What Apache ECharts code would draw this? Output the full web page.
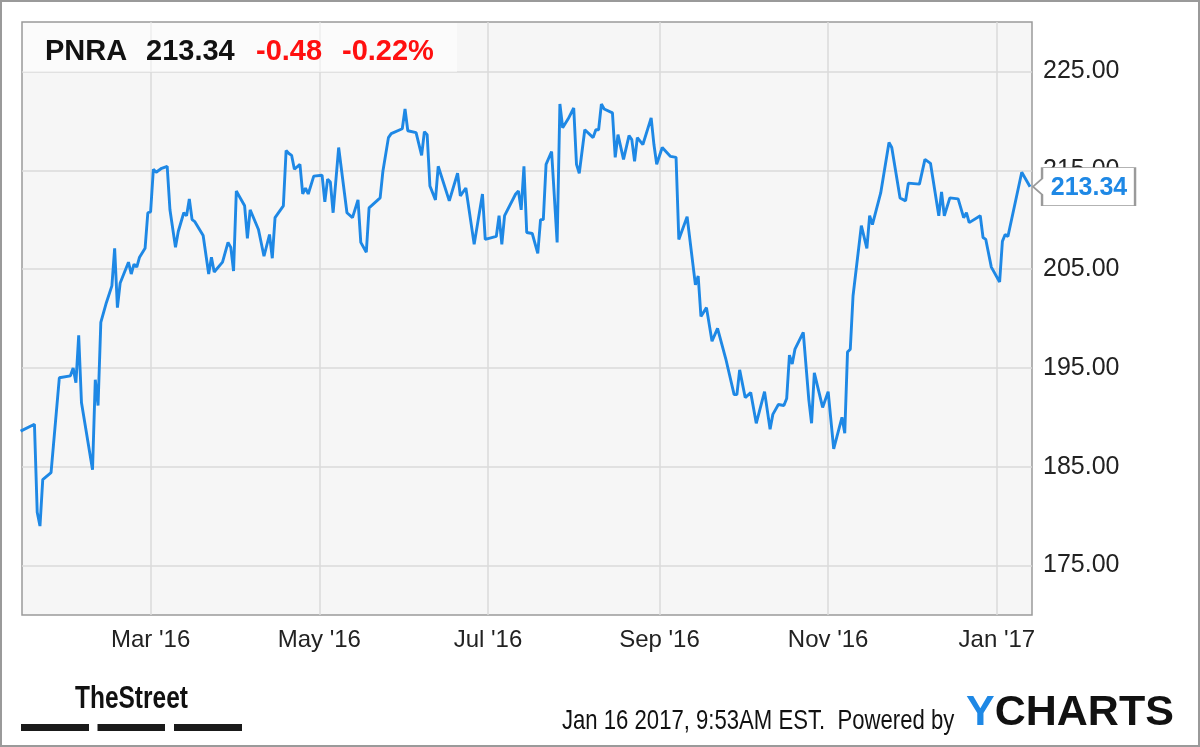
<!DOCTYPE html>
<html>
<head>
<meta charset="utf-8">
<script src="https://cdn.jsdelivr.net/npm/echarts@6/dist/echarts.min.js"></script>
<style>
html,body{margin:0;padding:0;background:#fff;}
#c{width:1200px;height:747px;}
</style>
</head>
<body>
<div id="c"></div>
<script>
// ---- data ----
const ticker = 'PNRA';
const lastPriceText = '213.34';
const changeText = '-0.48';
const changePctText = '-0.22%';
const stampText = 'Jan 16 2017, 9:53AM EST.  Powered by';

const dates = [
'2016-01-14','2016-01-19','2016-01-20','2016-01-21','2016-01-22','2016-01-25','2016-01-28',
'2016-02-01','2016-02-02','2016-02-03','2016-02-04','2016-02-05','2016-02-09','2016-02-10','2016-02-11','2016-02-12',
'2016-02-14','2016-02-16','2016-02-17','2016-02-18','2016-02-19','2016-02-22','2016-02-23','2016-02-24','2016-02-25',
'2016-02-26','2016-02-28','2016-02-29','2016-03-01','2016-03-02','2016-03-03','2016-03-05','2016-03-07','2016-03-08',
'2016-03-10','2016-03-11','2016-03-13','2016-03-14','2016-03-15','2016-03-16','2016-03-17','2016-03-20','2016-03-22',
'2016-03-23','2016-03-24','2016-03-27','2016-03-29','2016-03-30','2016-03-31','2016-04-01','2016-04-02','2016-04-04',
'2016-04-05','2016-04-06','2016-04-09','2016-04-11','2016-04-13','2016-04-14','2016-04-15','2016-04-18','2016-04-19',
'2016-04-20','2016-04-21','2016-04-22','2016-04-24','2016-04-25','2016-04-26','2016-04-27','2016-04-29','2016-05-02',
'2016-05-03','2016-05-04','2016-05-05','2016-05-06','2016-05-08','2016-05-11','2016-05-13','2016-05-15','2016-05-16',
'2016-05-18','2016-05-19','2016-05-23','2016-05-24','2016-05-26','2016-05-27','2016-05-31','2016-06-01','2016-06-02',
'2016-06-05','2016-06-07','2016-06-08','2016-06-09','2016-06-10','2016-06-12','2016-06-13','2016-06-17','2016-06-20',
'2016-06-21','2016-06-23','2016-06-26','2016-06-29','2016-06-30','2016-07-04','2016-07-05','2016-07-06','2016-07-07',
'2016-07-11','2016-07-12','2016-07-13','2016-07-14','2016-07-15','2016-07-17','2016-07-19','2016-07-20','2016-07-21',
'2016-07-22','2016-07-24','2016-07-26','2016-07-27','2016-07-28','2016-07-30','2016-08-01','2016-08-02','2016-08-03',
'2016-08-05','2016-08-08','2016-08-09','2016-08-10','2016-08-11','2016-08-12','2016-08-15','2016-08-16','2016-08-17',
'2016-08-19','2016-08-21','2016-08-22','2016-08-23','2016-08-24','2016-08-26','2016-08-29','2016-08-30','2016-08-31',
'2016-09-02','2016-09-05','2016-09-07','2016-09-08','2016-09-11','2016-09-14','2016-09-15','2016-09-16','2016-09-18',
'2016-09-20','2016-09-22','2016-09-25','2016-09-28','2016-09-29','2016-09-30','2016-10-02','2016-10-04','2016-10-06',
'2016-10-09','2016-10-11','2016-10-12','2016-10-14','2016-10-16','2016-10-17','2016-10-18','2016-10-19','2016-10-20',
'2016-10-23','2016-10-25','2016-10-26','2016-10-27','2016-10-30','2016-11-01','2016-11-03','2016-11-06','2016-11-07',
'2016-11-08','2016-11-09','2016-11-10','2016-11-13','2016-11-15','2016-11-16','2016-11-17','2016-11-20','2016-11-23',
'2016-11-24','2016-11-27','2016-11-29','2016-11-30','2016-12-04','2016-12-06','2016-12-08','2016-12-11','2016-12-12',
'2016-12-13','2016-12-15','2016-12-18','2016-12-20','2016-12-21','2016-12-22','2016-12-26','2016-12-27','2016-12-28',
'2016-12-30','2017-01-02','2017-01-03','2017-01-04','2017-01-05','2017-01-10','2017-01-13'
];
const prices = [
188.6,189.3,180.4,179.0,183.7,184.4,194.0,
194.2,195.0,193.5,198.3,191.5,184.7,193.8,191.2,199.6,
201.6,203.3,207.1,201.1,203.6,205.7,204.5,205.5,205.2,
206.2,207.1,210.7,210.8,215.1,214.8,215.2,215.4,211.0,
207.2,208.8,210.7,210.4,212.1,210.0,209.8,208.4,204.5,
206.2,204.7,205.7,207.7,207.2,204.8,212.9,212.4,211.4,
208.1,211.0,209.0,206.3,208.5,206.1,210.2,211.4,217.0,
216.7,216.5,215.1,215.6,212.6,213.2,212.6,214.4,214.5,
211.8,214.1,213.8,210.7,217.3,210.7,210.2,212.0,207.7,
206.7,211.2,212.2,214.9,218.3,218.7,219.2,221.2,219.0,
218.8,216.5,218.9,218.6,213.4,212.0,215.4,211.9,214.7,
212.4,213.2,207.5,212.6,208.0,208.3,210.4,207.5,210.4,
212.6,212.9,211.0,215.4,208.7,208.6,206.6,210.0,210.0,
215.6,216.9,207.7,221.7,219.3,220.2,221.3,215.6,214.7,
219.1,218.3,219.1,219.1,221.7,221.2,220.8,216.3,218.6,
216.1,218.5,218.1,215.9,218.3,217.6,220.3,217.6,215.6,
217.3,216.4,216.3,208.0,210.3,203.4,204.3,200.2,201.1,
197.7,199.0,195.9,192.3,192.3,194.8,192.0,192.5,189.4,
192.6,188.8,190.3,191.3,191.2,191.9,196.3,195.4,196.9,
198.6,191.8,189.4,194.5,191.0,192.6,186.8,190.0,188.4,
196.6,196.9,202.3,209.4,207.1,210.4,209.5,212.7,217.8,
217.3,212.2,211.9,213.7,213.6,216.1,215.7,210.4,212.8,
210.4,212.2,212.1,210.2,210.7,209.7,210.4,208.2,208.0,
205.2,203.7,207.8,208.5,208.3,214.8,213.34
];
const xTickDates = ['2016-03-01','2016-05-01','2016-07-01','2016-09-01','2016-11-01','2017-01-01'];
const xTickLabels = ["Mar '16","May '16","Jul '16","Sep '16","Nov '16","Jan '17"];
const yTickValues = [175, 185, 195, 205, 215, 225];

// ---- helpers ----
function ts(s){ const p = s.split('-').map(Number); return Date.UTC(p[0], p[1]-1, p[2]); }
const seriesData = dates.map((d,i)=>[ts(d), prices[i]]);
const xTickTs = xTickDates.map(ts);
const FONT = '"Liberation Sans", Arial, Helvetica, sans-serif';
const LINE = '#1e88e5';

const chart = echarts.init(document.getElementById('c'), null, {renderer:'canvas'});
const last = seriesData[seriesData.length-1];

const option = {
  animation: false,
  backgroundColor: '#ffffff',
  grid: {
    left: 22, right: 168, top: 22, bottom: 132,
    show: true, backgroundColor: '#f6f6f6', borderColor: '#9a9a9a', borderWidth: 1.5
  },
  xAxis: {
    type: 'value',
    min: Date.UTC(2016,0,14,12),
    max: Date.UTC(2017,0,13,17),
    axisLine: {show:false},
    axisTick: {show:false, customValues: xTickTs},
    axisLabel: {
      customValues: xTickTs,
      formatter: function(v){
        let best = 0, bd = Infinity;
        xTickTs.forEach((t,i)=>{ const dd = Math.abs(t - v); if (dd < bd){bd = dd; best = i;} });
        return xTickLabels[best];
      },
      fontFamily: FONT, fontSize: 24, color: '#222', margin: 13
    },
    splitLine: {show:true, lineStyle:{color:'#dadada', width:1.5}}
  },
  yAxis: {
    type: 'value',
    position: 'right',
    min: 170, max: 230,
    axisLine: {show:false},
    axisTick: {show:false, customValues: yTickValues},
    axisLabel: {
      customValues: yTickValues,
      formatter: v => v.toFixed(2),
      fontFamily: FONT, fontSize: 25, color: '#222', margin: 11
    },
    splitLine: {show:true, lineStyle:{color:'#dadada', width:1.5}}
  },
  series: [{
    type: 'line',
    data: seriesData,
    showSymbol: false,
    lineStyle: {color: LINE, width: 2.9},
    itemStyle: {color: LINE},
    markPoint: {
      symbol: 'path://M0,19L9,11L9,0L102,0L102,38L9,38L9,27Z',
      symbolSize: [102, 38],
      symbolOffset: [54, 0],
      itemStyle: {color: '#ffffff', borderColor: '#9a9a9a', borderWidth: 1.5},
      label: {
        show: true,
        formatter: () => last[1].toFixed(2),
        color: LINE, fontFamily: FONT, fontWeight: 'bold', fontSize: 25,
        offset: [5, 1]
      },
      data: [{coord: last}]
    }
  }],
  graphic: [
    {type:'rect', z: 100, silent:true, shape:{x:1, y:1, width:1198, height:745},
     style:{fill:'none', stroke:'#9a9a9a', lineWidth:2}},
    {type:'rect', z: 20, silent:true, shape:{x:23, y:23, width:434, height:49},
     style:{fill:'rgba(255,255,255,0.55)'}},
    {type:'text', z: 21, x: 45, y: 66, style:{text: ticker, font:'bold 29px ' + FONT, fill:'#111', verticalAlign:'bottom'}},
    {type:'text', z: 21, x: 146, y: 66, style:{text: lastPriceText, font:'bold 29px ' + FONT, fill:'#111', verticalAlign:'bottom'}},
    {type:'text', z: 21, x: 256, y: 66, style:{text: changeText, font:'bold 29px ' + FONT, fill:'#ff1010', verticalAlign:'bottom'}},
    {type:'text', z: 21, x: 342, y: 66, style:{text: changePctText, font:'bold 29px ' + FONT, fill:'#ff1010', verticalAlign:'bottom'}},
    {type:'text', z: 21, x: 75, y: 715, scaleX: 0.79, style:{text:'TheStreet', font:'bold 31px ' + FONT, fill:'#111', verticalAlign:'bottom'}},
    {type:'rect', z: 21, shape:{x:21, y:724, width:68, height:7}, style:{fill:'#1a1a1a'}},
    {type:'rect', z: 21, shape:{x:97.5, y:724, width:67.5, height:7}, style:{fill:'#1a1a1a'}},
    {type:'rect', z: 21, shape:{x:174, y:724, width:68, height:7}, style:{fill:'#1a1a1a'}},
    {type:'text', z: 21, x: 562, y: 735, scaleX: 0.79, style:{text: stampText, font:'28px ' + FONT, fill:'#111', verticalAlign:'bottom'}},
    {type:'text', z: 21, x: 966, y: 735, style:{
      text:'{y|Y}{c|CHARTS}', verticalAlign:'bottom',
      rich:{ y:{font:'bold 43px ' + FONT, fill:'#1e88e5'}, c:{font:'bold 43px ' + FONT, fill:'#111'} }
    }}
  ]
};
chart.setOption(option);
</script>
</body>
</html>
